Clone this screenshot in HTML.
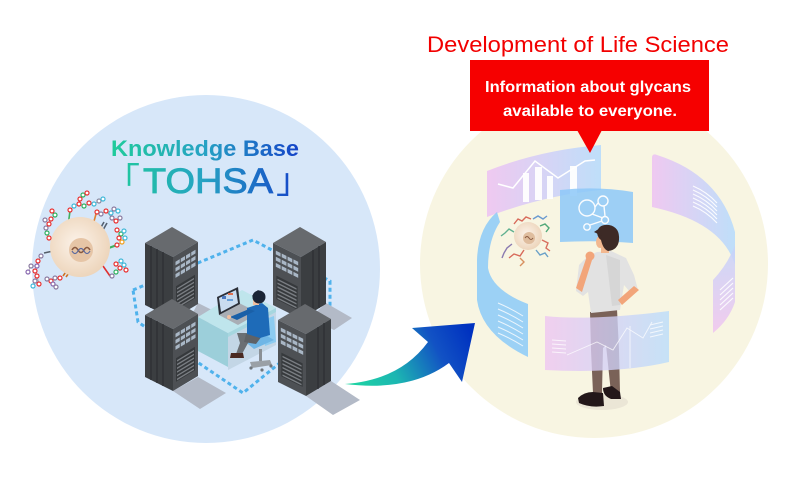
<!DOCTYPE html>
<html><head><meta charset="utf-8">
<style>html,body{margin:0;padding:0;background:#fff;overflow:hidden}svg{display:block}</style></head>
<body>
<svg width="800" height="500" viewBox="0 0 800 500" xmlns="http://www.w3.org/2000/svg" xmlns:xlink="http://www.w3.org/1999/xlink">
<defs>
 <linearGradient id="kb" gradientUnits="userSpaceOnUse" x1="110" y1="0" x2="300" y2="0">
  <stop offset="0" stop-color="#1fcc9a"/><stop offset="0.5" stop-color="#26a2c4"/><stop offset="1" stop-color="#1442c8"/>
 </linearGradient>
 <linearGradient id="arr" gradientUnits="userSpaceOnUse" x1="350" y1="388" x2="468" y2="328">
  <stop offset="0" stop-color="#1ed6a2"/><stop offset="0.35" stop-color="#1cb6b2"/><stop offset="0.72" stop-color="#1252c4"/><stop offset="1" stop-color="#0032c0"/>
 </linearGradient>
 <linearGradient id="pb" x1="0" y1="0" x2="1" y2="0">
  <stop offset="0" stop-color="#eec4f2"/><stop offset="1" stop-color="#b8dcfc"/>
 </linearGradient>
 <linearGradient id="bp" x1="0" y1="0" x2="1" y2="0">
  <stop offset="0" stop-color="#b8dcfc"/><stop offset="1" stop-color="#eec4f2"/>
 </linearGradient>
 <linearGradient id="bpv" x1="0" y1="0" x2="0" y2="1">
  <stop offset="0" stop-color="#c4d4fa"/><stop offset="1" stop-color="#f0c4f0"/>
 </linearGradient>
 <radialGradient id="cell" cx="0.45" cy="0.45" r="0.6">
  <stop offset="0" stop-color="#fcf3ea"/><stop offset="1" stop-color="#ecd3b8"/>
 </radialGradient>

 <g id="srvA">
  <polygon points="0,0 27,-16 53,-1 28,14" fill="#676a6e"/>
  <polygon points="0,0 28,14 28,76 0,62" fill="#3b3e41"/>
  <polygon points="28,14 53,-1 53,61 28,76" fill="#4d5054"/>
  <g stroke="#2e3134" stroke-width="1.4">
   <line x1="6" y1="3" x2="6" y2="65"/><line x1="12" y1="6" x2="12" y2="68"/><line x1="18" y1="9" x2="18" y2="71"/>
  </g>
  <g transform="matrix(25,-15,0,62,28,14)" fill="#a9b7c6">
   <rect x="0.1" y="0.1" width="0.17" height="0.06"/><rect x="0.31" y="0.1" width="0.17" height="0.06"/><rect x="0.52" y="0.1" width="0.17" height="0.06"/><rect x="0.73" y="0.1" width="0.17" height="0.06"/>
   <rect x="0.1" y="0.2" width="0.17" height="0.06"/><rect x="0.31" y="0.2" width="0.17" height="0.06"/><rect x="0.52" y="0.2" width="0.17" height="0.06"/><rect x="0.73" y="0.2" width="0.17" height="0.06"/>
   <rect x="0.1" y="0.3" width="0.17" height="0.06"/><rect x="0.31" y="0.3" width="0.17" height="0.06"/><rect x="0.52" y="0.3" width="0.17" height="0.06"/><rect x="0.73" y="0.3" width="0.17" height="0.06"/>
   <rect x="0.12" y="0.5" width="0.76" height="0.38" fill="#36393c"/>
   <rect x="0.16" y="0.54" width="0.68" height="0.025" fill="#7a7e83"/><rect x="0.16" y="0.6" width="0.68" height="0.025" fill="#7a7e83"/><rect x="0.16" y="0.66" width="0.68" height="0.025" fill="#7a7e83"/><rect x="0.16" y="0.72" width="0.68" height="0.025" fill="#7a7e83"/><rect x="0.16" y="0.78" width="0.68" height="0.025" fill="#7a7e83"/><rect x="0.16" y="0.84" width="0.68" height="0.025" fill="#7a7e83"/>
  </g>
 </g>
 <g id="srvB">
  <polygon points="0,0 27,-16 53,-1 28,14" fill="#676a6e"/>
  <polygon points="0,0 28,14 28,76 0,62" fill="#4d5054"/>
  <polygon points="28,14 53,-1 53,61 28,76" fill="#3b3e41"/>
  <g stroke="#2e3134" stroke-width="1.4">
   <line x1="46" y1="3" x2="46" y2="65"/><line x1="40" y1="7" x2="40" y2="69"/>
  </g>
  <g transform="matrix(28,14,0,62,0,0)" fill="#a9b7c6">
   <rect x="0.1" y="0.1" width="0.17" height="0.06"/><rect x="0.31" y="0.1" width="0.17" height="0.06"/><rect x="0.52" y="0.1" width="0.17" height="0.06"/><rect x="0.73" y="0.1" width="0.17" height="0.06"/>
   <rect x="0.1" y="0.2" width="0.17" height="0.06"/><rect x="0.31" y="0.2" width="0.17" height="0.06"/><rect x="0.52" y="0.2" width="0.17" height="0.06"/><rect x="0.73" y="0.2" width="0.17" height="0.06"/>
   <rect x="0.1" y="0.3" width="0.17" height="0.06"/><rect x="0.31" y="0.3" width="0.17" height="0.06"/><rect x="0.52" y="0.3" width="0.17" height="0.06"/><rect x="0.73" y="0.3" width="0.17" height="0.06"/>
   <rect x="0.12" y="0.5" width="0.76" height="0.38" fill="#36393c"/>
   <rect x="0.16" y="0.54" width="0.68" height="0.025" fill="#7a7e83"/><rect x="0.16" y="0.6" width="0.68" height="0.025" fill="#7a7e83"/><rect x="0.16" y="0.66" width="0.68" height="0.025" fill="#7a7e83"/><rect x="0.16" y="0.72" width="0.68" height="0.025" fill="#7a7e83"/><rect x="0.16" y="0.78" width="0.68" height="0.025" fill="#7a7e83"/><rect x="0.16" y="0.84" width="0.68" height="0.025" fill="#7a7e83"/>
  </g>
 </g>
</defs>

<rect width="800" height="500" fill="#ffffff"/>

<!-- background circles -->
<circle cx="206" cy="269" r="174" fill="#d7e7f9"/>
<circle cx="594" cy="264" r="174" fill="#f8f5e2"/>

<!-- ===== LEFT ===== -->
<text x="111" y="156" font-family="Liberation Sans, sans-serif" font-size="22" font-weight="bold" fill="url(#kb)" textLength="188" lengthAdjust="spacingAndGlyphs">Knowledge Base</text>
<text x="105" y="193" font-family="Liberation Sans, 'Noto Sans CJK JP', sans-serif" font-size="35" fill="url(#kb)">「</text>
<text x="143" y="193" font-family="Liberation Sans, sans-serif" font-size="35" fill="url(#kb)" stroke="url(#kb)" stroke-width="0.8" textLength="130" lengthAdjust="spacingAndGlyphs">TOHSA</text>
<text x="276" y="193" font-family="Liberation Sans, 'Noto Sans CJK JP', sans-serif" font-size="35" fill="url(#kb)">」</text>

<!-- dashed network -->
<polygon points="133,290 253,240 330,281 330,322 243,393 138,322" fill="none" stroke="#4fb2ec" stroke-width="3" stroke-dasharray="4,3"/>

<!-- shadows -->
<g fill="#b3bac7">
 <polygon points="198,303 222,315 205,325 190,318"/>
 <polygon points="326,303 352,318 334,330 310,318"/>
 <polygon points="173,391 198,377 226,393 200,409"/>
 <polygon points="306,396 331,381 360,400 333,415"/>
</g>

<use xlink:href="#srvA" x="145" y="243"/>
<use xlink:href="#srvB" x="273" y="243"/>

<!-- desk -->
<polygon points="228,333 276,308 276,345 228,370" fill="#c3d6e6"/>
<polygon points="198,317 228,333 228,367 198,351" fill="#9ccfda"/>
<polygon points="198,317 242,290 276,308 228,333" fill="#bfe5ec"/>
<polygon points="228,333 276,308 276,312 228,337" fill="#a6d6df"/>
<!-- laptop -->
<polygon points="219,315 239,303 259,313 238,325" fill="#a9aeb5"/>
<polygon points="217,297 238,287 240,304 219,315" fill="#2b2f38"/>
<polygon points="219,298 236,290 238,303 221,312" fill="#c9dcf0"/>
<rect x="222" y="296" width="4" height="3" fill="#4a78c0"/>
<rect x="228" y="293" width="5" height="2" fill="#e07050"/>
<rect x="227" y="299" width="6" height="2" fill="#6aa0d8"/>
<!-- chair -->
<polygon points="263,320 274,316 276,342 265,346" fill="#8ccbf0"/>
<polygon points="243,340 262,333 274,340 254,349" fill="#6fb6e6"/>
<rect x="259" y="349" width="3" height="12" fill="#8a9096"/>
<polygon points="250,362 270,360 272,365 252,368" fill="#9aa0a6"/>
<circle cx="251" cy="368" r="1.6" fill="#70767c"/><circle cx="271" cy="366" r="1.6" fill="#70767c"/><circle cx="262" cy="370" r="1.6" fill="#70767c"/>
<!-- person left -->
<polygon points="237,333 252,333 248,343 242,354 236,354 240,343" fill="#6b6f74"/>
<polygon points="246,334 262,336 256,344 244,342" fill="#5e6267"/>
<polygon points="231,353 243,353 244,358 230,358" fill="#4a2a22"/>
<polygon points="247,308 262,303 268,308 270,335 260,338 247,334" fill="#1e6bb8"/>
<polygon points="249,309 255,311 237,320 230,317" fill="#1a60a8"/>
<circle cx="229" cy="317" r="2" fill="#f0c0a0"/>
<rect x="253" y="299" width="6" height="6" fill="#f0c0a0"/>
<circle cx="259" cy="297" r="6.5" fill="#1b2536"/>
<polygon points="252,296 258,290 265,294 256,299" fill="#1b2536"/>

<use xlink:href="#srvA" x="145" y="315"/>
<use xlink:href="#srvB" x="278" y="320"/>

<!-- cell left -->
<g stroke-width="1.6" fill="none">
 <line x1="68" y1="226" x2="70" y2="211" stroke="#40b060"/>
 <line x1="93" y1="225" x2="96" y2="214" stroke="#e08030"/>
 <line x1="100" y1="229" x2="104" y2="222" stroke="#556070"/><line x1="103" y1="230" x2="107" y2="223" stroke="#556070"/>
 <line x1="106" y1="249" x2="117" y2="245" stroke="#40b060" stroke-width="2.2"/>
 <line x1="103" y1="266" x2="110" y2="276" stroke="#e03030"/>
 <line x1="63" y1="276" x2="68" y2="269" stroke="#d07020"/><line x1="66" y1="277" x2="71" y2="270" stroke="#d07020"/>
 <line x1="44" y1="253" x2="58" y2="250" stroke="#555f6a"/>
 <line x1="52" y1="242" x2="58" y2="241" stroke="#3a70c0"/>
</g>
<circle cx="80" cy="247" r="30" fill="url(#cell)"/>
<circle cx="81" cy="250" r="12" fill="#e6c5a6"/>
<path d="M72,250 q3,-5 6,0 t6,0 t6,0" fill="none" stroke="#8a5a40" stroke-width="1.6"/>
<path d="M72,251 q3,5 6,0 t6,0 t6,0" fill="none" stroke="#5a6aa0" stroke-width="1.2"/>
<g stroke="#9a9a9a" stroke-width="0.8" fill="none">
 <polyline points="70,210 74,206 79,204 84,206 89,203 94,204 99,201 103,199"/>
 <polyline points="79,204 80,199 83,195 87,193"/>
 <polyline points="97,212 101,214 106,211 111,213 114,209 118,211"/>
 <polyline points="106,211 112,218 116,221 120,218"/>
 <polyline points="117,230 121,234 124,231"/><polyline points="121,234 119,238 122,242 117,245"/><polyline points="122,242 125,238"/>
 <polyline points="112,276 116,272 120,268 124,265"/><polyline points="120,268 116,264 121,261"/><polyline points="124,265 126,270"/>
 <polyline points="60,278 55,278 51,281 47,279"/><polyline points="51,281 53,284 56,287"/>
 <polyline points="41,256 38,261 37,266 35,271 37,276 35,281 33,286"/><polyline points="37,276 39,284"/><polyline points="37,266 31,266 28,272"/>
 <polyline points="49,238 47,233 46,228 49,224 45,220"/><polyline points="49,224 51,219 55,215 52,211"/>
</g>
<g stroke-width="1.2" fill="#ffffff">
 <circle cx="70" cy="210" r="2" stroke="#e83030"/><circle cx="74" cy="206" r="2" stroke="#40b8d8"/><circle cx="79" cy="204" r="2" stroke="#e83030"/><circle cx="84" cy="206" r="2" stroke="#30b060"/><circle cx="89" cy="203" r="2" stroke="#e83030"/><circle cx="94" cy="204" r="2" stroke="#40b8d8"/><circle cx="99" cy="201" r="2" stroke="#8a8aa0"/><circle cx="103" cy="199" r="2" stroke="#40b8d8"/>
 <circle cx="80" cy="199" r="2" stroke="#e83030"/><circle cx="83" cy="195" r="2" stroke="#30b060"/><circle cx="87" cy="193" r="2" stroke="#e83030"/>
 <circle cx="97" cy="212" r="2" stroke="#e83030"/><circle cx="101" cy="214" r="2" stroke="#8a7aa0"/><circle cx="106" cy="211" r="2" stroke="#e83030"/><circle cx="111" cy="213" r="2" stroke="#40b8d8"/><circle cx="114" cy="209" r="2" stroke="#8a7aa0"/><circle cx="118" cy="211" r="2" stroke="#40b8d8"/><circle cx="112" cy="218" r="2" stroke="#8a7aa0"/><circle cx="116" cy="221" r="2" stroke="#e83030"/><circle cx="120" cy="218" r="2" stroke="#8a7aa0"/>
 <circle cx="117" cy="230" r="2" stroke="#e83030"/><circle cx="121" cy="234" r="2" stroke="#30b060"/><circle cx="124" cy="231" r="2" stroke="#40b8d8"/><circle cx="119" cy="238" r="2" stroke="#e83030"/><circle cx="122" cy="242" r="2" stroke="#f0a020"/><circle cx="117" cy="245" r="2" stroke="#e83030"/><circle cx="125" cy="238" r="2" stroke="#40b8d8"/>
 <circle cx="112" cy="276" r="2" stroke="#8a7aa0"/><circle cx="116" cy="272" r="2" stroke="#30b060"/><circle cx="120" cy="268" r="2" stroke="#e83030"/><circle cx="124" cy="265" r="2" stroke="#40b8d8"/><circle cx="116" cy="264" r="2" stroke="#e83030"/><circle cx="121" cy="261" r="2" stroke="#40b8d8"/><circle cx="126" cy="270" r="2" stroke="#e83030"/>
 <circle cx="60" cy="278" r="2" stroke="#e83030"/><circle cx="55" cy="278" r="2" stroke="#8a7aa0"/><circle cx="51" cy="281" r="2" stroke="#e83030"/><circle cx="47" cy="279" r="2" stroke="#8a7aa0"/><circle cx="53" cy="284" r="2" stroke="#8a6ab0"/><circle cx="56" cy="287" r="2" stroke="#8a7aa0"/>
 <circle cx="41" cy="256" r="2" stroke="#8a7aa0"/><circle cx="38" cy="261" r="2" stroke="#e83030"/><circle cx="37" cy="266" r="2" stroke="#8a6ab0"/><circle cx="35" cy="271" r="2" stroke="#e83030"/><circle cx="37" cy="276" r="2" stroke="#e83030"/><circle cx="35" cy="281" r="2" stroke="#8a7aa0"/><circle cx="33" cy="286" r="2" stroke="#40b8d8"/><circle cx="39" cy="284" r="2" stroke="#e83030"/><circle cx="31" cy="266" r="2" stroke="#8a7aa0"/><circle cx="28" cy="272" r="2" stroke="#8a6ab0"/>
 <circle cx="49" cy="238" r="2" stroke="#e83030"/><circle cx="47" cy="233" r="2" stroke="#30b060"/><circle cx="46" cy="228" r="2" stroke="#8a7aa0"/><circle cx="49" cy="224" r="2" stroke="#e83030"/><circle cx="45" cy="220" r="2" stroke="#8a7aa0"/><circle cx="51" cy="219" r="2" stroke="#e83030"/><circle cx="55" cy="215" r="2" stroke="#30b060"/><circle cx="52" cy="211" r="2" stroke="#e83030"/>
</g>

<!-- ===== ARROW ===== -->
<path d="M345,384 Q410,392 449,363 L462,382 L475,323 L412,328 L428,342 Q400,380 345,384 Z" fill="url(#arr)"/>

<!-- ===== RIGHT ===== -->
<!-- panel A -->
<path d="M487,171 Q540,150 601,145 L601,190 Q545,195 487,217 Z" fill="url(#pb)" opacity="0.9"/>
<g fill="#ffffff" opacity="0.95">
 <rect x="523" y="173" width="6" height="29"/>
 <rect x="535" y="167" width="7" height="33"/>
 <rect x="547" y="176" width="6" height="23"/>
 <rect x="570" y="166" width="7" height="30"/>
</g>
<polyline points="498,184 513,188 535,161 558,178 585,161 595,160" fill="none" stroke="#ffffff" stroke-width="1.5"/>

<!-- panel C (right curved) -->
<path d="M652,158 Q652,153 657,155 Q720,175 735,232 L735,265 Q722,222 652,207 Z" fill="url(#pb)" opacity="0.9"/>
<path d="M713,280 Q728,264 735,245 L735,302 Q729,320 713,333 Z" fill="url(#bpv)" opacity="0.85"/>
<g stroke="#ffffff" stroke-width="1.1" fill="none" opacity="0.9">
 <path d="M693,186 Q707,192 717,203"/><path d="M693,190 Q707,196 717,207"/><path d="M693,194 Q707,200 717,211"/><path d="M693,198 Q707,204 717,215"/><path d="M693,202 Q707,208 717,219"/><path d="M693,206 Q707,212 717,223"/>
 <path d="M720,290 L733,278"/><path d="M720,295 L733,283"/><path d="M720,300 L733,288"/><path d="M720,305 L733,293"/><path d="M720,310 L733,298"/>
</g>

<!-- right cell -->
<circle cx="528" cy="236" r="14" fill="url(#cell)"/>
<circle cx="529" cy="238" r="6" fill="#dfbd9e"/>
<path d="M525,238 q2,-3 4,0 t4,0" fill="none" stroke="#8a5a40" stroke-width="1"/>
<g stroke-width="1.4" fill="none">
 <polyline points="514,224 518,219 522,221 526,217 531,219" stroke="#d86a5a"/>
 <polyline points="533,219 538,216 543,219 547,216" stroke="#6a9ad0"/>
 <polyline points="540,226 545,224 549,228 546,232" stroke="#50a878"/>
 <polyline points="542,240 548,243 546,248 550,251" stroke="#d87060"/>
 <polyline points="536,250 540,255 545,253 548,257" stroke="#6aa0c8"/>
 <polyline points="524,250 520,256 514,254 509,258" stroke="#d86a5a"/>
 <polyline points="512,244 507,248 504,253 502,258" stroke="#8a7ab0"/>
 <polyline points="514,232 509,229 505,233 501,236" stroke="#60b090"/>
 <polyline points="520,258 524,262 520,266" stroke="#d89060"/>
</g>

<!-- panel B -->
<path d="M560,190 Q597,186 633,192 L633,243 Q597,240 560,242 Z" fill="#8dc8f8" opacity="0.85"/>
<g stroke="#ffffff" stroke-width="1.4" fill="none" opacity="0.95">
 <circle cx="587" cy="208" r="8"/><circle cx="603" cy="201" r="5"/><circle cx="605" cy="220" r="3.5"/><circle cx="587" cy="227" r="3.2"/>
 <line x1="595" y1="207" x2="598" y2="203"/><line x1="592" y1="214" x2="603" y2="218"/><line x1="590" y1="225" x2="602" y2="221"/><line x1="604" y1="206" x2="605" y2="216"/>
</g>

<!-- panel D (left band) -->
<path d="M497,212 Q478,228 477,260 L477,300 Q482,335 528,357 L528,304 Q492,290 488,268 Q488,240 500,222 Z" fill="#8ccaf8" opacity="0.85"/>
<g stroke="#ffffff" stroke-width="1" fill="none" opacity="0.8">
 <path d="M498,303 Q510,308 523,316"/><path d="M498,309 Q510,314 523,322"/><path d="M498,315 Q510,320 523,328"/><path d="M498,321 Q510,326 523,334"/><path d="M498,327 Q510,332 523,340"/><path d="M498,333 Q510,338 523,346"/>
</g>

<!-- panel F outline right small done; person -->
<ellipse cx="602" cy="402" rx="26" ry="8" fill="#ebe6d6"/>
<!-- legs -->
<polygon points="590,312 617,309 619,350 620,392 611,393 606,345 603,348 602,393 593,393 591,350" fill="#7a6258"/>
<!-- shoes -->
<path d="M578,398 Q584,392 593,392 L603,393 L604,406 Q590,408 579,403 Z" fill="#231719"/>
<path d="M603,388 L612,386 L620,392 L621,399 L611,399 Q603,396 603,388 Z" fill="#231719"/>
<!-- shirt -->
<polygon points="597,252 611,251 626,258 634,275 638,290 630,292 624,285 620,310 591,313 588,292 583,296 576,291 579,265 588,256" fill="#e2e2e2"/>
<polygon points="606,255 620,260 620,305 612,306" fill="#d6d6d6"/>
<!-- arms skin -->
<polygon points="634,286 639,290 622,305 618,300" fill="#f2a57a"/>
<polygon points="576,288 582,292 592,260 587,256" fill="#f2a57a"/>
<circle cx="590" cy="256" r="4.5" fill="#f2a57a"/>
<!-- head -->
<rect x="601" y="244" width="8" height="9" fill="#f2b890"/>
<ellipse cx="600" cy="242" rx="4" ry="6" fill="#f2b890"/>
<path d="M597,233 Q598,224 609,225 Q620,227 619,240 Q618,250 608,251 Q603,249 601,240 Q598,238 597,233 Z" fill="#3d2a26"/>
<polygon points="594,232 600,228 602,236" fill="#3d2a26"/>

<!-- panel E (front bottom) -->
<path d="M545,316 Q590,321 669,311 L669,362 Q617,374 545,370 Z" fill="url(#pb)" opacity="0.78"/>
<g stroke="#ffffff" stroke-width="0.9" fill="none" opacity="0.75">
 <line x1="552" y1="340" x2="566" y2="341"/><line x1="552" y1="344" x2="566" y2="345"/><line x1="552" y1="348" x2="566" y2="349"/><line x1="552" y1="352" x2="566" y2="353"/>
 <polyline points="567,355 597,342 613,350 627,328 643,338 652,322"/>
 <line x1="630" y1="326" x2="630" y2="368"/>
 <line x1="650" y1="325" x2="663" y2="322"/><line x1="650" y1="329" x2="663" y2="326"/><line x1="650" y1="333" x2="663" y2="330"/><line x1="650" y1="337" x2="663" y2="334"/>
</g>

<!-- title -->
<text x="427" y="52" font-family="Liberation Sans, sans-serif" font-size="22" fill="#f20000" textLength="302" lengthAdjust="spacingAndGlyphs">Development of Life Science</text>
<!-- red callout -->
<rect x="470" y="60" width="239" height="71" fill="#f60000"/>
<polygon points="577,130 602,130 590,153" fill="#f60000"/>
<text x="485" y="92" font-family="Liberation Sans, sans-serif" font-size="16" font-weight="bold" fill="#ffffff" textLength="206" lengthAdjust="spacingAndGlyphs">Information about glycans</text>
<text x="503" y="116" font-family="Liberation Sans, sans-serif" font-size="16" font-weight="bold" fill="#ffffff" textLength="174" lengthAdjust="spacingAndGlyphs">available to everyone.</text>
</svg>
</body></html>
